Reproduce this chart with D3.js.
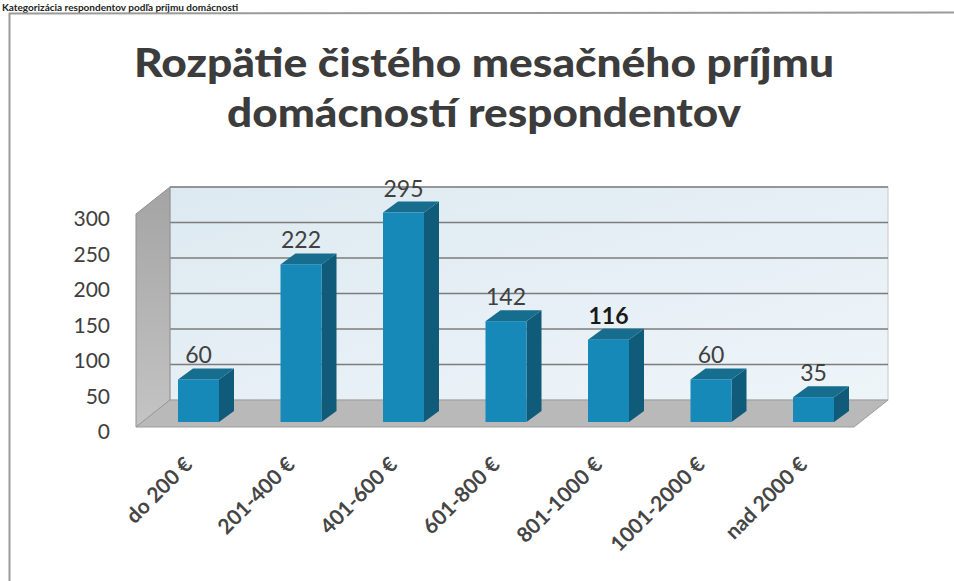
<!DOCTYPE html>
<html>
<head>
<meta charset="utf-8">
<script src="https://cdn.jsdelivr.net/npm/d3@7"></script>
<style>
  body { margin: 0; background: #fff; }
  svg { display: block; }
  text { font-family: Lato, "Open Sans", sans-serif; fill: #404040; }
</style>
</head>
<body>
<script>
// Chart data
var categories = ["do 200 €", "201-400 €", "401-600 €", "601-800 €", "801-1000 €", "1001-2000 €", "nad 2000 €"];
var counts = [60, 222, 295, 142, 116, 60, 35];
var yTicks = [0, 50, 100, 150, 200, 250, 300];

var svgWidth = 954;
var svgHeight = 581;

var svg = d3.select("body")
  .append("svg")
  .attr("width", svgWidth)
  .attr("height", svgHeight);

var defs = svg.append("defs");

var wallGrad = defs.append("linearGradient").attr("id", "wall")
  .attr("x1", 0).attr("y1", 0).attr("x2", 1).attr("y2", 1);
wallGrad.append("stop").attr("offset", "0%").attr("stop-color", "#dde9f1");
wallGrad.append("stop").attr("offset", "100%").attr("stop-color", "#eef5f9");

var sideGrad = defs.append("linearGradient").attr("id", "side")
  .attr("x1", 0).attr("y1", 0).attr("x2", 0).attr("y2", 1);
sideGrad.append("stop").attr("offset", "0%").attr("stop-color", "#a4a4a4");
sideGrad.append("stop").attr("offset", "100%").attr("stop-color", "#c4c4c4");

// caption above the chart (cut off in the scan)
svg.append("text")
  .attr("x", 2).attr("y", 11)
  .attr("font-family", "Liberation Sans, Arial, sans-serif")
  .attr("font-weight", "bold")
  .attr("font-size", 10)
  .style("fill", "#222")
  .text("Kategorizácia respondentov podľa príjmu domácnosti");

// chart frame
svg.append("path")
  .attr("d", "M9.5,581 L9.5,13.5 L954,12.5")
  .attr("fill", "none")
  .attr("stroke", "#9a9a9a")
  .attr("stroke-width", 2);

// title
var titleLines = [
  { t: "Rozpätie čistého mesačného príjmu", y: 77, w: 700 },
  { t: "domácností respondentov", y: 127, w: 514 }
];
svg.selectAll(".title").data(titleLines).enter()
  .append("text")
  .attr("class", "title")
  .attr("x", 484)
  .attr("y", d => d.y)
  .attr("text-anchor", "middle")
  .attr("font-weight", 900)
  .attr("font-size", 39)
  .attr("textLength", d => d.w)
  .attr("lengthAdjust", "spacingAndGlyphs")
  .style("fill", "#3c3c3c")
  .text(d => d.t);

// 3D frame geometry
var back = { left: 170, right: 888 };
var depth = { dx: -34, dy: 27 };   // back wall -> front edge of floor

// scale on the back wall
var yBack = d3.scaleLinear().domain([0, 300]).range([400, 187]);
// scale on the bar front faces
var yBar = d3.scaleLinear().domain([0, 300]).range([422, 209]);

var xScale = d3.scaleBand()
  .domain(categories)
  .range([147.25, 864.75])
  .paddingInner(0.6)
  .paddingOuter(0.3);

var y0 = yBack(0), yTop = yBack(300);

// back wall
svg.append("rect")
  .attr("x", back.left).attr("y", yTop)
  .attr("width", back.right - back.left)
  .attr("height", y0 - yTop)
  .attr("fill", "url(#wall)")
  .attr("stroke", "#c8c8c8");

// gridlines
svg.selectAll(".grid").data(yTicks.filter(v => v > 0)).enter()
  .append("line")
  .attr("class", "grid")
  .attr("x1", back.left).attr("x2", back.right)
  .attr("y1", d => yBack(d)).attr("y2", d => yBack(d))
  .attr("stroke", "#7c7c7c")
  .attr("stroke-width", 1.5);

// left side wall
svg.append("polygon")
  .attr("points", [
    [back.left, yTop], [back.left, y0],
    [back.left + depth.dx, y0 + depth.dy], [back.left + depth.dx, yTop + depth.dy]
  ].map(p => p.join(",")).join(" "))
  .attr("fill", "url(#side)")
  .attr("stroke", "#8f8f8f");

// floor
svg.append("polygon")
  .attr("points", [
    [back.left, y0], [back.right, y0],
    [back.right + depth.dx, y0 + depth.dy], [back.left + depth.dx, y0 + depth.dy]
  ].map(p => p.join(",")).join(" "))
  .attr("fill", "#b9b9b9")
  .attr("stroke", "#9c9c9c");

// y axis labels
svg.selectAll(".ylab").data(yTicks).enter()
  .append("text")
  .attr("class", "ylab")
  .attr("x", 110)
  .attr("y", d => yBack(d) + 32)
  .attr("dy", "0.35em")
  .attr("text-anchor", "end")
  .attr("font-size", 21)
  .text(d => d);

// bars
var bd = { dx: 15, dy: -11 };
var bw = xScale.bandwidth();
var bars = svg.selectAll(".bar").data(counts).enter()
  .append("g").attr("class", "bar");

bars.append("polygon")   // side
  .attr("points", (d, i) => {
    var x = xScale(categories[i]) + bw, yt = yBar(d), yb = yBar(0);
    return [[x, yt], [x + bd.dx, yt + bd.dy], [x + bd.dx, yb + bd.dy], [x, yb]].map(p => p.join(",")).join(" ");
  })
  .attr("fill", "#0f5b79");

bars.append("polygon")   // top
  .attr("points", (d, i) => {
    var x = xScale(categories[i]), yt = yBar(d);
    return [[x, yt], [x + bd.dx, yt + bd.dy], [x + bw + bd.dx, yt + bd.dy], [x + bw, yt]].map(p => p.join(",")).join(" ");
  })
  .attr("fill", "#166d8e");

bars.append("rect")      // front
  .attr("x", (d, i) => xScale(categories[i]))
  .attr("y", d => yBar(d))
  .attr("width", bw)
  .attr("height", d => yBar(0) - yBar(d))
  .attr("fill", "#1789b9");

// value labels
svg.selectAll(".val").data(counts).enter()
  .append("text")
  .attr("class", "val")
  .attr("x", (d, i) => xScale(categories[i]) + bw / 2)
  .attr("y", d => yBar(d) - 16)
  .attr("text-anchor", "middle")
  .attr("font-size", 23)
  .attr("font-weight", d => d === 116 ? "bold" : "normal")
  .style("fill", d => d === 116 ? "#1a1a1a" : "#404040")
  .text(d => d);

// category labels
svg.selectAll(".cat").data(categories).enter()
  .append("text")
  .attr("class", "cat")
  .attr("transform", d => `translate(${xScale(d) + bw / 2 - 5}, 466) rotate(-45)`)
  .attr("text-anchor", "end")
  .attr("font-size", 21)
  .attr("font-weight", "bold")
  .style("fill", "#454545")
  .text(d => d);
</script>
</body>
</html>
